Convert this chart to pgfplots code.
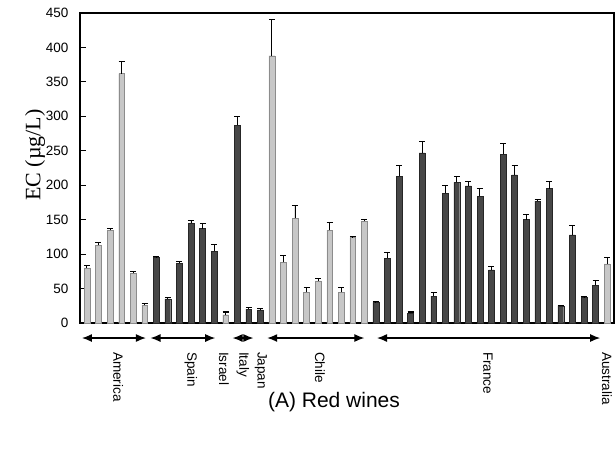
\documentclass[border=0pt]{standalone}
\usepackage{fontspec}
\setmainfont{Liberation Sans}
\newfontfamily\timesfont{Liberation Serif}
\usepackage{pgfplots}
\pgfplotsset{compat=1.18}
\usetikzlibrary{arrows.meta}
\tikzset{regarrow/.style={{Latex[length=10pt,width=8pt]}-{Latex[length=10pt,width=8pt]}, line width=1.2pt},
  ctry/.style={rotate=-90, anchor=west, inner sep=0pt, font=\fontsize{13.5}{15}\selectfont}}
\begin{document}
\begin{tikzpicture}[x=1pt,y=1pt]
\begin{axis}[
  at={(0pt,0pt)}, anchor=south west,
  width=534pt, height=310pt, scale only axis,
  xmin=-0.6, xmax=45.6, ymin=0, ymax=450,
  xtick=\empty,
  ytick={0,50,...,450}, ytick pos=left,
  tick align=inside, major tick length=6pt,
  tick style={black, line width=0.9pt},
  axis line style={black, line width=1.1pt},
  /pgf/number format/assume math mode=true,
  yticklabel style={font=\fontsize{13.5}{15}\selectfont, xshift=-8pt},
  clip=false,
  ybar, bar width=5.8pt, bar shift=0pt,
  error bars/y dir=plus, error bars/y explicit,
  error bars/error bar style={black, line width=0.9pt},
  error bars/error mark options={rotate=90, mark size=3pt, line width=1.1pt, black},
]
% light bars: America, Israel, Chile, Australia
\addplot[fill=black!22, draw=black!45, line width=0.4pt] coordinates {
 (0,80) +- (0,3)
 (1,113) +- (0,4)
 (2,135) +- (0,2)
 (3,362) +- (0,18)
 (4,72) +- (0,3)
 (5,26) +- (0,2)
 (12,12) +- (0,4)
 (16,388) +- (0,52)
 (17,88) +- (0,10)
 (18,152) +- (0,19)
 (19,45) +- (0,7)
 (20,61) +- (0,3)
 (21,135) +- (0,11)
 (22,45) +- (0,7)
 (23,124) +- (0,2)
 (24,148) +- (0,2)
 (45,86) +- (0,9)
};
% dark bars: Spain, Italy, Japan, France
\addplot[fill=black!72, draw=black!85, line width=0.4pt] coordinates {
 (6,95) +- (0,2)
 (7,35) +- (0,2)
 (8,87) +- (0,2)
 (9,145) +- (0,4)
 (10,137) +- (0,7)
 (11,104) +- (0,10)
 (13,287) +- (0,13)
 (14,20) +- (0,2)
 (15,19) +- (0,2)
 (25,30) +- (0,1)
 (26,94) +- (0,8)
 (27,213) +- (0,16)
 (28,14) +- (0,2)
 (29,247) +- (0,17)
 (30,39) +- (0,5)
 (31,188) +- (0,11)
 (32,204) +- (0,9)
 (33,199) +- (0,7)
 (34,184) +- (0,11)
 (35,77) +- (0,5)
 (36,245) +- (0,15)
 (37,215) +- (0,13)
 (38,150) +- (0,8)
 (39,177) +- (0,2)
 (40,195) +- (0,10)
 (41,25) +- (0,1)
 (42,128) +- (0,13)
 (43,37) +- (0,2)
 (44,55) +- (0,7)
};
% region arrows
\draw[regarrow] (axis cs:-0.43,-21.8) -- (axis cs:5.1,-21.8);
\draw[regarrow] (axis cs:5.5,-21.8) -- (axis cs:11.1,-21.8);
\draw[regarrow] (axis cs:12.6,-21.8) -- (axis cs:14.4,-21.8);
\draw[regarrow] (axis cs:15.6,-21.8) -- (axis cs:24.0,-21.8);
\draw[regarrow] (axis cs:25.1,-21.8) -- (axis cs:44.4,-21.8);
% country labels
\node[ctry] at (axis cs:2.7,-42) {America};
\node[ctry] at (axis cs:9.0,-42) {Spain};
\node[ctry] at (axis cs:11.85,-42) {Israel};
\node[ctry] at (axis cs:13.5,-42) {Italy};
\node[ctry] at (axis cs:15.05,-42) {Japan};
\node[ctry] at (axis cs:20.15,-42) {Chile};
\node[ctry] at (axis cs:34.7,-42) {France};
\node[ctry] at (axis cs:45.0,-42) {Australia};
\end{axis}
\node[rotate=90, font=\fontsize{22}{24}\selectfont\timesfont] at (-45pt,168pt) {EC (µg/L)};
\node[font=\fontsize{21}{24}\selectfont, anchor=base] at (254pt,-84pt) {(A) Red wines};
\pgfresetboundingbox
\path (-80pt,-125pt) rectangle (536pt,323pt);
\end{tikzpicture}
\end{document}
